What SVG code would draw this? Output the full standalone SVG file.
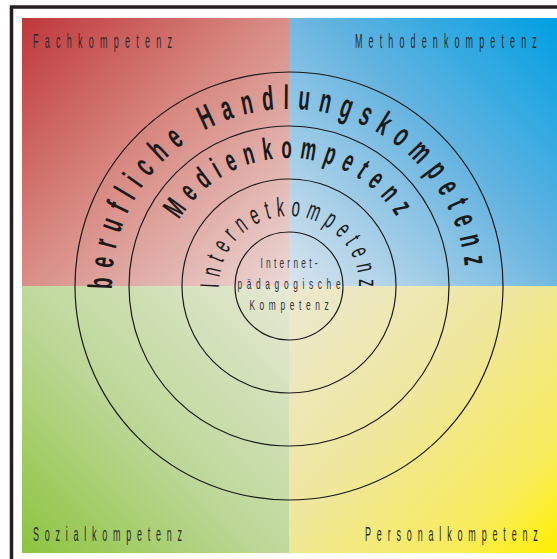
<svg xmlns="http://www.w3.org/2000/svg" width="557" height="559" viewBox="0 0 557 559">
<defs>
<linearGradient id="gTL" gradientUnits="userSpaceOnUse" x1="22" y1="18" x2="289" y2="286">
<stop offset="0" stop-color="#c0373b"/>
<stop offset="0.45" stop-color="#d7877f"/>
<stop offset="1" stop-color="#ebd8d6"/>
</linearGradient>
<linearGradient id="gTR" gradientUnits="userSpaceOnUse" x1="557" y1="18" x2="289" y2="286">
<stop offset="0" stop-color="#009fe3"/>
<stop offset="0.45" stop-color="#66b4e0"/>
<stop offset="1" stop-color="#d9e4ed"/>
</linearGradient>
<linearGradient id="gBL" gradientUnits="userSpaceOnUse" x1="22" y1="553" x2="289" y2="286">
<stop offset="0" stop-color="#8cc43f"/>
<stop offset="0.45" stop-color="#bcd796"/>
<stop offset="1" stop-color="#e5e9d6"/>
</linearGradient>
<linearGradient id="gBR" gradientUnits="userSpaceOnUse" x1="557" y1="553" x2="289" y2="286">
<stop offset="0" stop-color="#fff000"/>
<stop offset="0.2" stop-color="#f8ec5c"/>
<stop offset="0.55" stop-color="#efe79c"/>
<stop offset="1" stop-color="#ece8d2"/>
</linearGradient>
<path id="pOuter" d="M112.03,289.09 A177,177 0 1 1 465.57,298.35"/>
<path id="pMedien" d="M179.28,220.08 A128,128 0 0 1 409.28,242.22"/>
<path id="pInternet" d="M219.02,287.83 A70,70 0 1 1 357.94,298.16"/>
</defs>
<style>
.lbl{font-family:"Liberation Sans",Arial,sans-serif;font-size:20px;fill:#2b2b2b;}
.ring{fill:none;stroke:#1a1a1a;stroke-width:1.2;}
.arc{font-family:"Liberation Sans",Arial,sans-serif;fill:#1a1a1a;}
.inner{font-family:"Liberation Sans",Arial,sans-serif;font-size:14px;fill:#333;text-anchor:middle;}
</style>
<rect x="11.5" y="7" width="580" height="580" fill="#ffffff" stroke="#231f20" stroke-width="3.5"/>
<g id="quadrants">
<rect x="22" y="18" width="267" height="268" fill="url(#gTL)"/>
<rect x="289" y="18" width="268" height="268" fill="url(#gTR)"/>
<rect x="22" y="286" width="267" height="267" fill="url(#gBL)"/>
<rect x="289" y="286" width="268" height="267" fill="url(#gBR)"/>
</g>
<g id="labels">
<text class="lbl" transform="translate(33,48) scale(0.45,1)" textLength="309" lengthAdjust="spacing">Fachkompetenz</text>
<text class="lbl" transform="translate(355,48) scale(0.45,1)" textLength="404" lengthAdjust="spacing">Methodenkompetenz</text>
<text class="lbl" transform="translate(33,541) scale(0.45,1)" textLength="331" lengthAdjust="spacing">Sozialkompetenz</text>
<text class="lbl" transform="translate(365,541) scale(0.45,1)" textLength="384" lengthAdjust="spacing">Personalkompetenz</text>
</g>
<g id="rings">
<circle class="ring" cx="289" cy="286" r="214"/>
<circle class="ring" cx="289" cy="286" r="160"/>
<circle class="ring" cx="289" cy="286" r="107"/>
<circle class="ring" cx="289" cy="286" r="54"/>
</g>
<g id="outer-text">
<text class="arc" font-size="34" font-weight="bold" letter-spacing="16.2"><textPath href="#pOuter" textLength="548" lengthAdjust="spacingAndGlyphs">berufliche Handlungskompetenz</textPath></text>
</g>
<g id="medien-text">
<text class="arc" font-size="31" font-weight="bold" letter-spacing="14.4"><textPath href="#pMedien" textLength="267" lengthAdjust="spacingAndGlyphs">Medienkompetenz</textPath></text>
</g>
<g id="internet-text">
<text class="arc" font-size="27" letter-spacing="11.2"><textPath href="#pInternet" textLength="228" lengthAdjust="spacingAndGlyphs">Internetkompetenz</textPath></text>
</g>
<g id="center-text">
<text class="inner" transform="translate(289,268) scale(0.6,1)" textLength="95" lengthAdjust="spacing">Internet-</text>
<text class="inner" transform="translate(289,289) scale(0.6,1)" textLength="172" lengthAdjust="spacing">pädagogische</text>
<text class="inner" transform="translate(289,310) scale(0.6,1)" textLength="132" lengthAdjust="spacing">Kompetenz</text>
</g>
</svg>
